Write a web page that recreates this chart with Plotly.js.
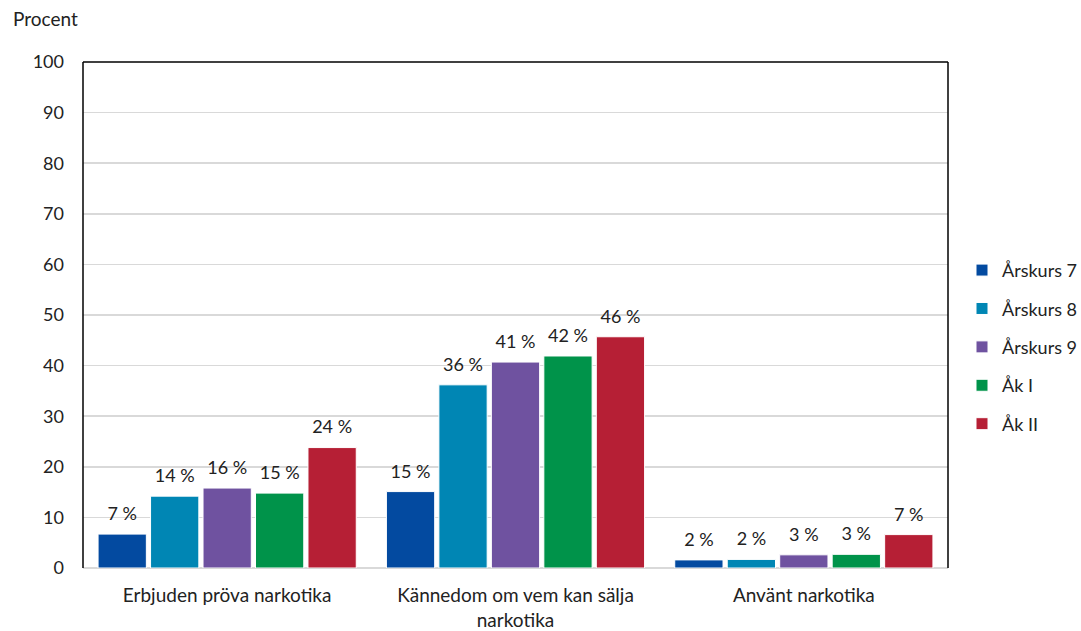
<!DOCTYPE html>
<html>
<head>
<meta charset="utf-8">
<script src="https://cdn.plot.ly/plotly-3.0.1.min.js"></script>
<style>html,body{margin:0;padding:0;background:#fff;}#chart{width:1081px;height:631px;}</style>
</head>
<body>
<div id="chart"></div>
<script>
const categories = ["Erbjuden pröva narkotika", "Kännedom om vem kan sälja<br>narkotika", "Använt narkotika"];
const seriesNames = ["Årskurs 7", "Årskurs 8", "Årskurs 9", "Åk I", "Åk II"];
const arskurs7 = [6.7, 15.1, 1.6];
const arskurs8 = [14.2, 36.2, 1.7];
const arskurs9 = [15.8, 40.7, 2.6];
const akI = [14.8, 41.9, 2.7];
const akII = [23.8, 45.7, 6.6];
const colors = ["#034AA0", "#0086B4", "#6F52A0", "#00934A", "#B61F35"];
const yTicks = [0, 10, 20, 30, 40, 50, 60, 70, 80, 90, 100];

const seriesValues = [arskurs7, arskurs8, arskurs9, akI, akII];
const font = "Lato, 'Open Sans', sans-serif";
const labelPad = 1.4; // extra space (axis units) between bar top and its label

const traces = [];
seriesValues.forEach((vals, i) => {
  traces.push({
    type: "bar",
    name: seriesNames[i],
    x: categories,
    y: vals,
    offsetgroup: "g" + i,
    legendgroup: "g" + i,
    marker: {color: colors[i], line: {color: "#ffffff", width: 1}},
    hoverinfo: "skip"
  });
});
seriesValues.forEach((vals, i) => {
  traces.push({
    type: "bar",
    name: seriesNames[i] + " label",
    x: categories,
    y: vals.map(() => labelPad),
    base: vals,
    customdata: vals,
    offsetgroup: "g" + i,
    showlegend: false,
    marker: {color: "rgba(0,0,0,0)"},
    texttemplate: "%{customdata:.0f} %",
    textposition: "outside",
    cliponaxis: false,
    textfont: {family: font, size: 18, color: "#222"},
    hoverinfo: "skip"
  });
});

const layout = {
  width: 1081, height: 631,
  margin: {l: 83, r: 133, t: 62, b: 63, autoexpand: false},
  paper_bgcolor: "#fff", plot_bgcolor: "#fff",
  font: {family: font, size: 17, color: "#222"},
  barmode: "group",
  bargap: 0.09,
  bargroupgap: 0.08,
  showlegend: true,
  legend: {x: 1.0162, xanchor: "left", y: 0.437, yanchor: "middle", traceorder: "grouped", tracegroupgap: 12, font: {family: font, size: 18, color: "#222"}, itemwidth: 30, bgcolor: "rgba(0,0,0,0)"},
  xaxis: {
    showline: false, showgrid: false, ticks: "", zeroline: false, ticklabelstandoff: 14,
    tickfont: {family: font, size: 19, color: "#222"}
  },
  yaxis: {
    range: [0, 100], tickvals: yTicks, showgrid: true, gridcolor: "#d9d9d9", gridwidth: 1.5,
    zeroline: true, zerolinecolor: "#d9d9d9", zerolinewidth: 2,
    showline: false, ticks: "", ticklabelstandoff: 18,
    tickfont: {family: font, size: 18, color: "#222"}, fixedrange: true
  },
  shapes: [
    {type: "line", xref: "paper", yref: "paper", x0: 0, x1: 0, y0: 0, y1: 1, line: {color: "#000", width: 1.5}},
    {type: "line", xref: "paper", yref: "paper", x0: 0, x1: 1, y0: 1, y1: 1, line: {color: "#000", width: 1.5}},
    {type: "line", xref: "paper", yref: "paper", x0: 1, x1: 1, y0: 0, y1: 1, line: {color: "#000", width: 1.5}}
  ],
  annotations: [
    {text: "Procent", xref: "paper", yref: "paper", x: -0.083, y: 1.06, xanchor: "left", yanchor: "bottom", showarrow: false, font: {family: font, size: 19, color: "#222"}}
  ]
};

Plotly.newPlot("chart", traces, layout, {staticPlot: true, displayModeBar: false});
</script>
</body>
</html>
